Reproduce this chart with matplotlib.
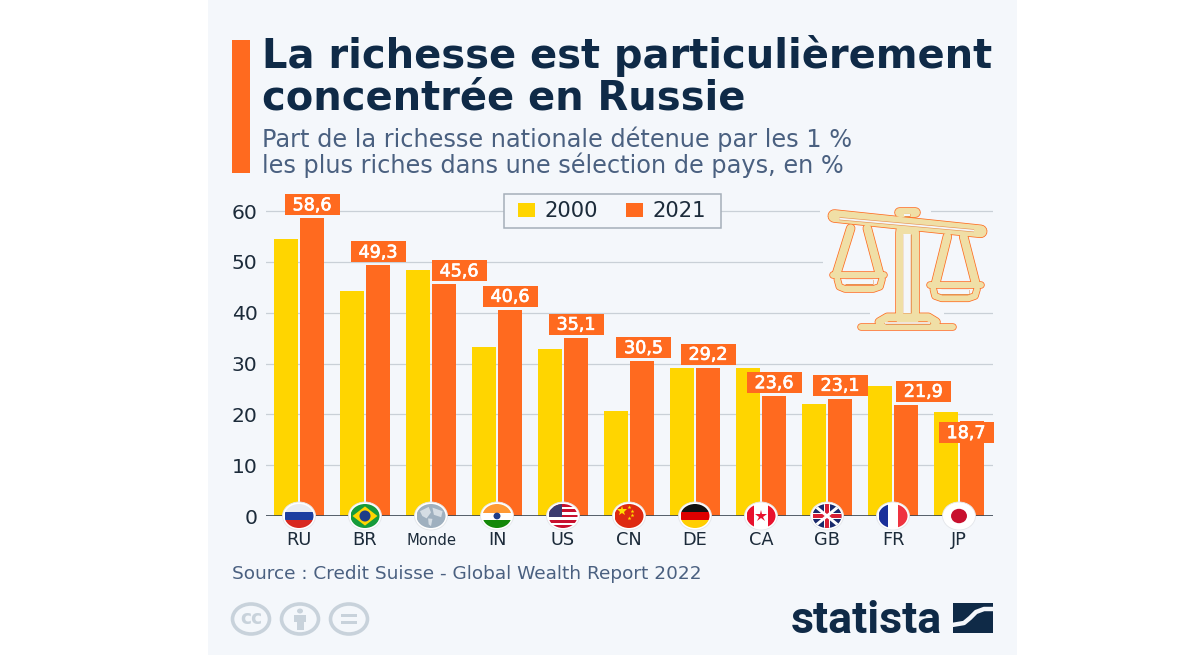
import matplotlib
matplotlib.use("Agg")
import matplotlib.pyplot as plt
import matplotlib.patheffects as pe
from matplotlib.patches import Rectangle, Ellipse, Polygon

plt.rcParams['font.family'] = ['DejaVu Sans']

# ---------- data ----------
countries = ["RU", "BR", "Monde", "IN", "US", "CN", "DE", "CA", "GB", "FR", "JP"]
values_2000 = [54.4, 44.2, 48.3, 33.2, 32.9, 20.7, 29.1, 29.1, 22.1, 25.5, 20.4]
values_2021 = [58.6, 49.3, 45.6, 40.6, 35.1, 30.5, 29.2, 23.6, 23.1, 21.9, 18.7]
value_labels = ["58,6", "49,3", "45,6", "40,6", "35,1", "30,5", "29,2", "23,6", "23,1", "21,9", "18,7"]
y_ticks = [0, 10, 20, 30, 40, 50, 60]

title_lines = ["La richesse est particulièrement", "concentrée en Russie"]
subtitle_lines = ["Part de la richesse nationale détenue par les 1 %",
                  "les plus riches dans une sélection de pays, en %"]
source_text = "Source : Credit Suisse - Global Wealth Report 2022"

# ---------- style ----------
YELLOW = "#FFD500"
ORANGE = "#FF6A1F"
NAVY = "#0F2A47"
SLATE = "#4A6080"
INK = "#1C2B3A"
PANEL = "#F4F7FB"
GRID = "#C9D0D7"
CREAM = "#F0DFA6"
GREYICON = "#C8D2DB"
W, H = 1200, 655
# manual label nudges in pixels (dx, dy)
label_dx = [0, 0, 15, 0, 0, 1.5, 0, 0, 0, 17.3, -6]
label_dy = [0, 0, 0, 0, 0, 0, 0, 0, 0, 0, 25]

fig = plt.figure(figsize=(W / 100, H / 100), dpi=100, facecolor="white")

bg = fig.add_axes([0, 0, 1, 1], zorder=0)
bg.set_xlim(0, W); bg.set_ylim(H, 0); bg.axis("off")
bg.add_patch(Rectangle((208, 0), 809, H, fc=PANEL, ec="none"))

L, R, T, B = 266, 993, 190, 516
ax = fig.add_axes([L / W, 1 - B / H, (R - L) / W, (B - T) / H], zorder=1)
ax.patch.set_alpha(0)
ax.set_xlim(-0.5, 10.515)
ax.set_ylim(0, (B - T) / 5.083)
for s in ax.spines.values():
    s.set_visible(False)
ax.set_yticks(y_ticks)
ax.set_xticks(range(len(countries)))
ax.set_xticklabels([])
ax.tick_params(axis="both", length=0)
ax.tick_params(axis="y", labelsize=14.6, labelcolor=INK, pad=6)
ax.grid(axis="y", color=GRID, lw=0.9, zorder=1)
ax.set_axisbelow(True)

bw = 24 / 66
off = 13 / 66
xpos = list(range(len(countries)))
ax.bar([x - off for x in xpos], values_2000, bw, color=YELLOW, zorder=2, label="2000")
ax.bar([x + off for x in xpos], values_2021, bw, color=ORANGE, zorder=2, label="2021")
ax.axhline(0, color="#3A4652", lw=1.2, zorder=3)

ov = fig.add_axes([0, 0, 1, 1], zorder=2)
ov.set_xlim(0, W); ov.set_ylim(H, 0); ov.axis("off"); ov.patch.set_alpha(0)

# title block
ov.add_patch(Rectangle((232, 40), 18, 133, fc=ORANGE, ec="none"))
for line, y in zip(title_lines, [68, 110]):
    ov.text(262, y, line, fontsize=28.8, fontweight="bold", color=NAVY, va="baseline", ha="left")
for line, y in zip(subtitle_lines, [147, 173]):
    ov.text(262, y, line, fontsize=17.3, color=SLATE, va="baseline", ha="left")

# legend
ov.add_patch(Rectangle((503.5, 193.5), 217, 34, fc=PANEL, ec="#A5AFB9", lw=1.1))
ov.add_patch(Rectangle((518, 203), 17, 14, fc=YELLOW, ec="none"))
ov.add_patch(Rectangle((626, 203), 17, 14, fc=ORANGE, ec="none"))
ov.text(545, 217, "2000", fontsize=15.2, color=INK, va="baseline")
ov.text(653, 217, "2021", fontsize=15.2, color=INK, va="baseline")

# value labels
stroke = [pe.withStroke(linewidth=0.5, foreground="white")]
for i, (v, lab) in enumerate(zip(values_2021, value_labels)):
    px, py = ax.transData.transform((i + off, v))
    py = H - py
    cx = px + label_dx[i]
    bottom = py - 3 + label_dy[i]
    ov.add_patch(Rectangle((cx - 27.5, bottom - 21), 55, 21, fc=ORANGE, ec="none", zorder=4))
    ov.text(cx, bottom - 4.8, lab, fontsize=12.6, color="white",
            ha="center", va="baseline", zorder=5, path_effects=stroke)

# mask the grid behind the scale icon
for x0, x1, y in [(820, 931, 211), (823, 994, 262), (870, 944, 313)]:
    ov.add_patch(Rectangle((x0, y - 3), x1 - x0, 6, fc=PANEL, ec="none"))

# scale icon (zoomed-crop coordinates mapped to pixels)
sx = lambda X: 800 + X / 3
sy = lambda Y: 190 + Y / 3
icon_strokes = [
    ([322, 322], [125, 380], 23),
    ([152, 110], [115, 250], 8),
    ([202, 238], [115, 250], 8),
    ([100, 252], [255, 255], 6),
    ([112, 118, 135, 220, 240, 246], [268, 290, 297, 297, 290, 268], 6),
    ([442, 407], [140, 280], 8),
    ([491, 527], [140, 280], 8),
    ([390, 543], [285, 285], 6),
    ([400, 405, 425, 505, 525, 531], [298, 318, 325, 325, 318, 298], 6),
    ([238, 262, 385, 408], [396, 382, 382, 396], 8),
    ([182, 460], [411, 411], 6),
    ([298, 345], [66, 66], 9),
    ([103, 542], [78, 124], 12),
]
for extra, col, z in [(1.5, ORANGE, 6), (0, CREAM, 7)]:
    for xs, ys, w in icon_strokes:
        ov.plot([sx(a) for a in xs], [sy(b) for b in ys], color=col,
                lw=(w + extra) * 0.72, solid_capstyle="round", solid_joinstyle="round", zorder=z)
slots = [([118, 522], [86, 122], 1.8), ([322, 322], [132, 370], 7.5),
         ([134, 218], [276, 276], 4), ([422, 508], [305, 305], 4),
         ([255, 390], [399, 399], 1.6), ([312, 330], [75, 75], 2)]
for xs, ys, w in slots:
    ov.plot([sx(a) for a in xs], [sy(b) for b in ys], color="#E8914F",
            lw=(w + 1.2) * 0.72, solid_capstyle="butt", zorder=8)
    ov.plot([sx(a) for a in xs], [sy(b) for b in ys], color=PANEL,
            lw=w * 0.72, solid_capstyle="butt", zorder=9)

# flags
FW, FH = 29, 24
def flag(i, code):
    cx = 299 + 66 * i
    cy = 516
    ov.add_patch(Ellipse((cx, cy), 33, 28, fc="white", ec="#E3E6EA", lw=0.6, zorder=9))
    clip = Ellipse((cx, cy), FW, FH, transform=ov.transData, fc="none", ec="none", zorder=10)
    ov.add_patch(clip)
    x0, y0 = cx - FW / 2, cy - FH / 2
    def rect(x, y, w, h, c):
        p = Rectangle((x0 + x * FW, y0 + y * FH), w * FW, h * FH, fc=c, ec="none", zorder=10)
        ov.add_patch(p); p.set_clip_path(clip)
    def poly(pts, c, z=11):
        p = Polygon([(x0 + a * FW, y0 + b * FH) for a, b in pts], fc=c, ec="none", zorder=z)
        ov.add_patch(p); p.set_clip_path(clip)
    def ell(a, b, w, h, c, z=12):
        p = Ellipse((x0 + a * FW, y0 + b * FH), w * FW, h * FH, fc=c, ec="none", zorder=z)
        ov.add_patch(p); p.set_clip_path(clip)
    if code == "RU":
        rect(0, 0, 1, 1/3, "#E9ECF1"); rect(0, 1/3, 1, 1/3, "#1C3FA0"); rect(0, 2/3, 1, 1/3, "#D8281F")
    elif code == "BR":
        rect(0, 0, 1, 1, "#169B3A")
        poly([(.5, .1), (.93, .5), (.5, .9), (.07, .5)], "#FFD500")
        ell(.5, .5, .38, .46, "#1F3C88")
    elif code == "Monde":
        rect(0, 0, 1, 1, "#9FB0BF")
        poly([(.12, .3), (.42, .12), (.5, .35), (.35, .6), (.2, .5)], "#D5DDE4")
        poly([(.55, .15), (.9, .3), (.85, .55), (.6, .45)], "#D5DDE4")
        poly([(.4, .6), (.55, .62), (.5, .92), (.42, .85)], "#D5DDE4")
    elif code == "IN":
        rect(0, 0, 1, .36, "#FF9933"); rect(0, .36, 1, .3, "#FFFFFF"); rect(0, .66, 1, .34, "#138808")
        ell(.5, .5, .24, .28, "#1F3C88")
    elif code == "US":
        for k in range(9):
            rect(0, k / 9, 1, 1 / 9, "#C8102E" if k % 2 == 0 else "#FFFFFF")
        rect(0, 0, .48, 5 / 9, "#3C3B6E")
    elif code == "CN":
        rect(0, 0, 1, 1, "#DE2910")
        ov.plot([x0 + .27 * FW], [y0 + .3 * FH], marker="*", ms=7, color="#FFDE00", mew=0, zorder=12)
        for a, b in [(.5, .12), (.6, .28), (.6, .45), (.5, .58)]:
            ov.plot([x0 + a * FW], [y0 + b * FH], marker="*", ms=3, color="#FFDE00", mew=0, zorder=12)
    elif code == "DE":
        rect(0, 0, 1, 1/3, "#111111"); rect(0, 1/3, 1, 1/3, "#DD0000"); rect(0, 2/3, 1, 1/3, "#FFCE00")
    elif code == "CA":
        rect(0, 0, 1, 1, "#FFFFFF"); rect(0, 0, .25, 1, "#E8112D"); rect(.75, 0, .25, 1, "#E8112D")
        ov.plot([x0 + .5 * FW], [y0 + .48 * FH], marker="*", ms=9, color="#E8112D", mew=0, zorder=12)
    elif code == "GB":
        rect(0, 0, 1, 1, "#1A2A6C")
        poly([(0, .08), (.08, 0), (1, .92), (.92, 1)], "#FFFFFF")
        poly([(0, .92), (.08, 1), (1, .08), (.92, 0)], "#FFFFFF")
        rect(.38, 0, .24, 1, "#FFFFFF"); rect(0, .36, 1, .28, "#FFFFFF")
        rect(.44, 0, .12, 1, "#D81E34"); rect(0, .43, 1, .14, "#D81E34")
    elif code == "FR":
        rect(0, 0, 1/3, 1, "#1A2F9A"); rect(1/3, 0, 1/3, 1, "#FFFFFF"); rect(2/3, 0, 1/3, 1, "#EF3340")
    elif code == "JP":
        rect(0, 0, 1, 1, "#FFFFFF")
        ell(.5, .5, .55, .6, "#C8102E")

for i, c in enumerate(countries):
    flag(i, c)
    ov.text(299 + 66 * i, 545, c, fontsize=10.6 if c == "Monde" else 12.8,
            color=INK, ha="center", va="baseline", zorder=13)

# source
ov.text(232, 579, source_text, fontsize=13.3, color=SLATE, va="baseline")

# CC icons
for cx in [251, 300, 349]:
    ov.add_patch(Ellipse((cx, 619), 37, 30, fc="none", ec=GREYICON, lw=2.6))
ov.text(251, 624, "cc", fontsize=13.5, fontweight="bold", color=GREYICON, ha="center", va="baseline")
ov.add_patch(Ellipse((300, 611), 6, 5, fc=GREYICON, ec="none"))
ov.add_patch(Polygon([(294, 615), (306, 615), (306, 622), (303.5, 622), (303.5, 630), (296.5, 630), (296.5, 622), (294, 622)],
                     fc=GREYICON, ec="none"))
ov.add_patch(Rectangle((341, 614), 16, 3, fc=GREYICON, ec="none"))
ov.add_patch(Rectangle((341, 621), 16, 3, fc=GREYICON, ec="none"))

# statista logo
ov.text(791, 633, "statista", fontsize=32.2, fontweight="bold", color=NAVY,
        family=["Roboto", "DejaVu Sans"], va="baseline")
ov.add_patch(Rectangle((953, 603), 40, 30, fc=NAVY, ec="none"))
ov.plot([952, 964, 970, 976, 984, 994], [625, 623, 618, 612, 609, 609], color=PANEL, lw=3.2, zorder=4)

fig.savefig("out.png", dpi=100, facecolor="white")
